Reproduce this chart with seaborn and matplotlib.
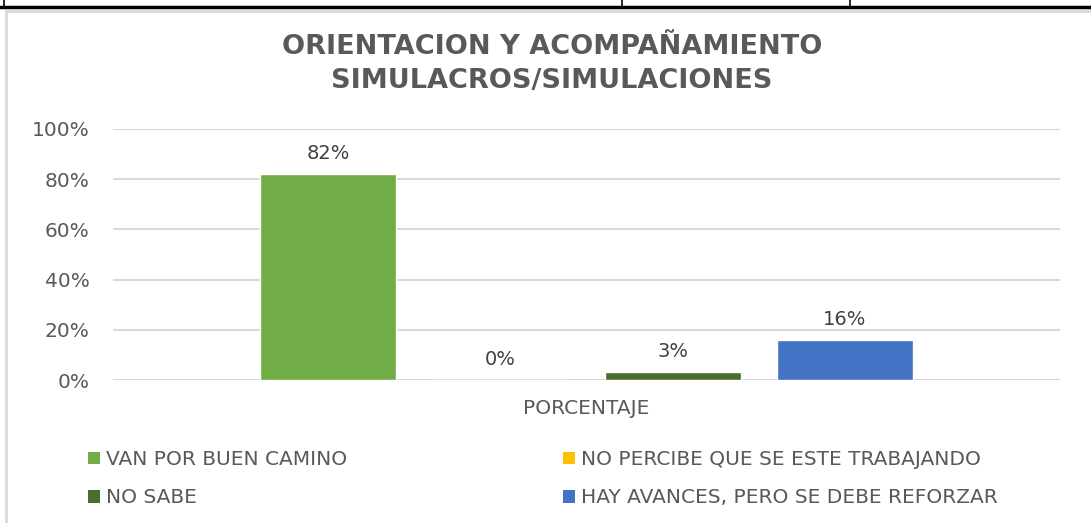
import matplotlib
matplotlib.use("Agg")
import matplotlib.pyplot as plt
from matplotlib.lines import Line2D
from matplotlib.patches import Patch
import seaborn as sns
import pandas as pd

title = "ORIENTACION Y ACOMPAÑAMIENTO\nSIMULACROS/SIMULACIONES"
category = ["PORCENTAJE"]
series = ["VAN POR BUEN CAMINO", "NO PERCIBE QUE SE ESTE TRABAJANDO",
          "NO SABE", "HAY AVANCES, PERO SE DEBE REFORZAR"]
values = [0.82, 0.00, 0.03, 0.16]
labels = ["82%", "0%", "3%", "16%"]
colors = ["#70AD47", "#FFC000", "#4A6E2C", "#4472C4"]
yticks = [0, 0.2, 0.4, 0.6, 0.8, 1.0]
ytick_labels = ["0%", "20%", "40%", "60%", "80%", "100%"]

sns.set_theme(style="white")
plt.rcParams['font.family'] = ['DejaVu Sans']
txt = "#595959"

df = pd.DataFrame({"cat": category * len(series), "serie": series, "val": values})

fig = plt.figure(figsize=(10.91, 5.23), dpi=100)
ax = fig.add_axes([113/1091, 1 - 380/523, (1060-113)/1091, (380-129)/523])
sns.barplot(data=df, x="cat", y="val", hue="serie", hue_order=series,
            palette=colors, width=0.727, gap=0.21, ax=ax, legend=False,
            saturation=1)
ax.set_xlim(-0.5, 0.5)
ax.set_ylim(0, 1)
ax.set_yticks(yticks)
ax.set_yticklabels(ytick_labels)
ax.yaxis.grid(True, color="#D9D9D9", linewidth=1.5)
ax.set_axisbelow(True)
for s in ax.spines.values():
    s.set_visible(False)
ax.tick_params(axis="y", length=0, pad=17, labelsize=14.5, labelcolor=txt)
ax.tick_params(axis="x", length=0, pad=14, labelsize=14.5, labelcolor=txt)
ax.set_xlabel("")
ax.set_ylabel("")

for cont, lab in zip(ax.containers, labels):
    ax.bar_label(cont, labels=[lab], padding=8, fontsize=14, color="#404040")

fig.text(0.506, 1 - 64/523, title, ha="center", va="center", fontsize=19.5,
         fontweight="bold", color=txt, linespacing=1.35)

# legend filled column-wise, so order entries to read row-wise like the reference
order = [0, 2, 1, 3]
handles = [Patch(facecolor=colors[i], edgecolor="none") for i in order]
names = [series[i] for i in order]
fig.legend(handles, names, ncol=2, loc="upper left",
           bbox_to_anchor=(70/1091, 1 - 432/523), frameon=False,
           fontsize=14.5, labelcolor=txt, handlelength=0.6, handleheight=0.6,
           handletextpad=0.3, columnspacing=10.7, labelspacing=0.95)

# table border decorations
fig.add_artist(Line2D([0, 1], [1 - 7/523, 1 - 7/523], color="black", lw=2.5))
for x in [4, 622, 850]:
    fig.add_artist(Line2D([x/1091, x/1091], [1 - 7/523, 1], color="black", lw=1.2))
fig.add_artist(Line2D([6/1091, 1], [1 - 11/523, 1 - 11/523], color="#D9D9D9", lw=2))
fig.add_artist(Line2D([6/1091, 6/1091], [0, 1 - 11/523], color="#D9D9D9", lw=2))

fig.savefig("out.png", dpi=100)
